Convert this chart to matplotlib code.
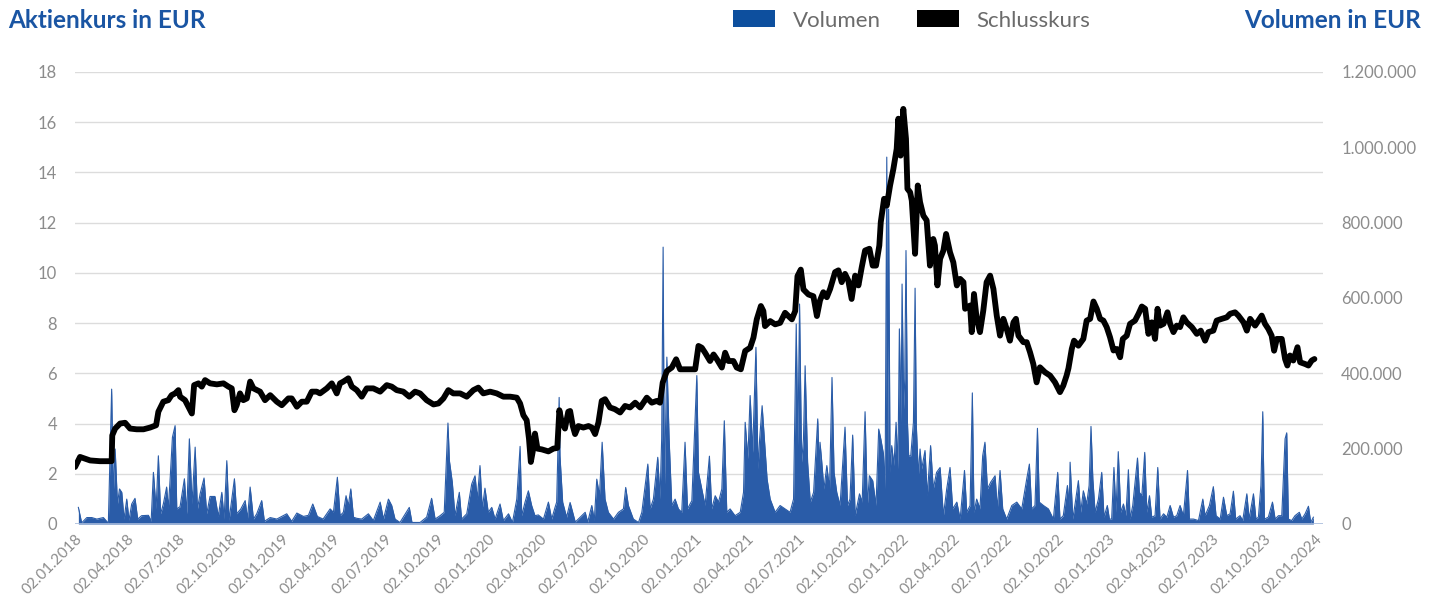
import numpy as np
import matplotlib
matplotlib.use("Agg")
import matplotlib.pyplot as plt
from matplotlib.patches import Patch

plt.rcParams["font.family"] = ["Lato", "DejaVu Sans"]

# closing price (EUR), time as decimal year
price_t = [
    2018.000, 2018.024, 2018.073, 2018.120, 2018.177, 2018.180, 2018.194, 2018.218, 2018.242, 2018.266,
    2018.298, 2018.331, 2018.363, 2018.392, 2018.403, 2018.427, 2018.451, 2018.467, 2018.484, 2018.500,
    2018.508, 2018.532, 2018.548, 2018.565, 2018.576, 2018.597, 2018.613, 2018.629, 2018.653, 2018.686,
    2018.718, 2018.742, 2018.758, 2018.771, 2018.782, 2018.798, 2018.814, 2018.831, 2018.847, 2018.863,
    2018.895, 2018.919, 2018.944, 2018.976, 2019.000, 2019.032, 2019.048, 2019.073, 2019.097, 2019.121,
    2019.145, 2019.169,
    2019.185, 2019.218, 2019.242, 2019.266, 2019.282, 2019.298, 2019.322, 2019.339, 2019.363, 2019.387,
    2019.411, 2019.443, 2019.476, 2019.508, 2019.532, 2019.556, 2019.588, 2019.617, 2019.645, 2019.669,
    2019.701, 2019.734, 2019.758, 2019.782, 2019.806, 2019.830, 2019.863, 2019.895, 2019.927, 2019.951,
    2019.975, 2020.008, 2020.040, 2020.072, 2020.105, 2020.137, 2020.153, 2020.169, 2020.185, 2020.196,
    2020.205, 2020.214, 2020.225, 2020.237, 2020.258, 2020.290, 2020.314, 2020.333, 2020.343, 2020.354,
    2020.370, 2020.386,
    2020.395, 2020.408, 2020.419, 2020.435, 2020.459, 2020.484, 2020.500, 2020.516, 2020.532, 2020.548,
    2020.564, 2020.588, 2020.612, 2020.637, 2020.661, 2020.685, 2020.710, 2020.734, 2020.766, 2020.790,
    2020.814, 2020.830, 2020.843, 2020.863, 2020.887, 2020.908, 2020.927, 2020.951, 2020.975, 2021.000,
    2021.016, 2021.032, 2021.048, 2021.072, 2021.089, 2021.105, 2021.129, 2021.145, 2021.161, 2021.185,
    2021.201, 2021.221, 2021.242, 2021.266, 2021.282, 2021.298, 2021.318, 2021.330, 2021.338, 2021.363,
    2021.387, 2021.411, 2021.435, 2021.451, 2021.468, 2021.484, 2021.495, 2021.511, 2021.524, 2021.548,
    2021.572, 2021.589,
    2021.604, 2021.620, 2021.637, 2021.653, 2021.677, 2021.693, 2021.709, 2021.725, 2021.741, 2021.757,
    2021.774, 2021.790, 2021.806, 2021.822, 2021.843, 2021.859, 2021.875, 2021.891, 2021.898, 2021.914,
    2021.927, 2021.943, 2021.959, 2021.975, 2021.983, 2021.994, 2022.007, 2022.020, 2022.027, 2022.040,
    2022.048, 2022.064, 2022.077, 2022.088, 2022.104, 2022.120, 2022.136, 2022.152, 2022.160, 2022.172,
    2022.185, 2022.201, 2022.214, 2022.233, 2022.249, 2022.266, 2022.282, 2022.298, 2022.306, 2022.330,
    2022.338, 2022.349, 2022.362, 2022.378, 2022.394, 2022.410, 2022.427, 2022.443, 2022.459, 2022.475,
    2022.491, 2022.507, 2022.523, 2022.540, 2022.552, 2022.564, 2022.588, 2022.604, 2022.620, 2022.636,
    2022.652, 2022.668, 2022.693, 2022.717, 2022.741, 2022.765, 2022.781, 2022.797, 2022.806,
    2022.822, 2022.833, 2022.854, 2022.878, 2022.894, 2022.911, 2022.927, 2022.943, 2022.959, 2022.975,
    2022.991, 2023.007, 2023.024, 2023.040, 2023.056, 2023.069, 2023.088, 2023.104, 2023.128, 2023.145,
    2023.161, 2023.177, 2023.193, 2023.209, 2023.225, 2023.237, 2023.249, 2023.266, 2023.285, 2023.298,
    2023.314, 2023.330, 2023.346, 2023.362, 2023.378, 2023.403, 2023.427, 2023.446, 2023.467, 2023.483,
    2023.507, 2023.523, 2023.548, 2023.572, 2023.588, 2023.612, 2023.628, 2023.653, 2023.669, 2023.685,
    2023.709, 2023.725, 2023.741, 2023.757, 2023.773, 2023.789, 2023.801, 2023.814, 2023.838, 2023.854,
    2023.865, 2023.878, 2023.894, 2023.914, 2023.927, 2023.951, 2023.967, 2023.983, 2023.996,
]
price = [
    2.27, 2.67, 2.53, 2.50, 2.50, 3.53, 3.80, 4.00, 4.03, 3.80,
    3.77, 3.77, 3.84, 3.93, 4.47, 4.87, 4.93, 5.13, 5.20, 5.33,
    5.07, 4.93, 4.67, 4.40, 5.53, 5.60, 5.47, 5.73, 5.60, 5.56,
    5.60, 5.47, 5.40, 4.53, 4.73, 5.20, 4.93, 5.00, 5.67, 5.40,
    5.27, 4.93, 5.13, 4.87, 4.73, 5.00, 5.00, 4.67, 4.87, 4.87,
    5.27, 5.27,
    5.20, 5.40, 5.60, 5.20, 5.60, 5.67, 5.80, 5.47, 5.33, 5.07,
    5.40, 5.40, 5.27, 5.53, 5.47, 5.33, 5.27, 5.07, 5.27, 5.20,
    4.93, 4.76, 4.80, 5.00, 5.33, 5.20, 5.20, 5.07, 5.33, 5.43,
    5.20, 5.27, 5.20, 5.07, 5.07, 5.03, 4.80, 4.33, 4.13, 3.40,
    2.47, 2.87, 3.60, 3.00, 2.97, 2.89, 3.00, 3.03, 4.53, 4.07,
    3.80, 4.47,
    4.50, 3.90, 3.58, 3.90, 3.84, 3.90, 3.84, 3.58, 4.04, 4.90,
    4.97, 4.64, 4.57, 4.44, 4.70, 4.64, 4.83, 4.64, 5.03, 4.83,
    4.90, 4.83, 5.63, 6.09, 6.23, 6.56, 6.16, 6.16, 6.16, 6.16,
    7.09, 7.02, 6.82, 6.49, 6.75, 6.56, 6.23, 6.82, 6.49, 6.49,
    6.23, 6.16, 6.89, 7.02, 7.42, 8.15, 8.68, 8.48, 7.88, 8.08,
    7.95, 8.01, 8.41, 8.28, 8.15, 8.48, 9.87, 10.13, 9.34, 9.14,
    9.07, 8.28,
    8.90, 9.23, 9.03, 9.36, 10.03, 10.10, 9.63, 9.96, 9.69, 8.96,
    9.89, 9.50, 10.23, 10.89, 10.96, 10.29, 10.29, 11.09, 12.02, 12.95,
    12.68, 13.48, 14.14, 14.94, 16.14, 14.67, 16.53, 15.34, 13.35, 13.21,
    12.88, 10.76, 13.48, 12.82, 12.28, 12.09, 10.29, 11.35, 11.09, 9.50,
    10.56, 10.89, 11.55, 10.82, 10.42, 9.50, 9.76, 9.63, 8.57, 8.70,
    7.64, 9.16, 8.17, 7.64, 8.50, 9.63, 9.89, 9.36, 8.30, 7.50,
    8.17, 7.77, 7.30, 8.03, 8.17, 7.50, 7.24, 7.24, 6.84, 6.37,
    5.64, 6.24, 6.04, 5.91, 5.64, 5.25, 5.51, 5.91, 6.20,
    6.97, 7.30, 7.10, 7.37, 8.10, 8.17, 8.86, 8.57, 8.17, 8.10,
    7.84, 7.44, 6.91, 6.97, 6.64, 7.37, 7.50, 7.97, 8.10, 8.37,
    8.66, 8.57, 7.57, 8.03, 7.37, 8.57, 7.90, 7.97, 8.43, 7.97,
    7.64, 7.90, 7.84, 8.23, 8.03, 7.84, 7.57, 7.70, 7.30, 7.64,
    7.70, 8.10, 8.17, 8.23, 8.37, 8.43, 8.30, 8.03, 7.70, 8.17,
    7.90, 8.10, 8.30, 7.97, 7.77, 7.50, 6.90, 7.37, 7.37, 6.57,
    6.31, 6.71, 6.51, 7.04, 6.44, 6.37, 6.31, 6.51, 6.57,
]

# traded volume in thousand EUR
vol_t = [
    2018.016, 2018.032, 2018.057, 2018.081, 2018.105, 2018.137, 2018.161, 2018.177, 2018.185, 2018.194,
    2018.205, 2018.215, 2018.226, 2018.237, 2018.250, 2018.261, 2018.274, 2018.290, 2018.303, 2018.322,
    2018.355, 2018.368, 2018.379, 2018.392, 2018.403, 2018.414, 2018.427, 2018.443, 2018.451, 2018.460,
    2018.471, 2018.484, 2018.492, 2018.508, 2018.529, 2018.540, 2018.553, 2018.566, 2018.581, 2018.592,
    2018.605, 2018.624, 2018.637, 2018.653, 2018.677, 2018.693, 2018.710, 2018.721, 2018.734, 2018.745,
    2018.771, 2018.782, 2018.802, 2018.823, 2018.834, 2018.847, 2018.863, 2018.879, 2018.903, 2018.916,
    2018.944, 2018.976, 2019.024, 2019.048, 2019.073, 2019.105, 2019.129, 2019.150, 2019.172,
    2019.200, 2019.234, 2019.250, 2019.269, 2019.282, 2019.298, 2019.311, 2019.322, 2019.334, 2019.347,
    2019.363, 2019.387, 2019.419, 2019.443, 2019.476, 2019.492, 2019.516, 2019.532, 2019.548, 2019.572,
    2019.617, 2019.630, 2019.669, 2019.701, 2019.725, 2019.742, 2019.766, 2019.786, 2019.804, 2019.811,
    2019.825, 2019.838, 2019.859, 2019.870, 2019.895, 2019.919, 2019.935, 2019.946, 2019.959, 2019.970,
    2019.983, 2019.999, 2020.016, 2020.032, 2020.056, 2020.072, 2020.097, 2020.116, 2020.137, 2020.153,
    2020.161, 2020.177, 2020.193, 2020.209, 2020.225, 2020.241, 2020.266, 2020.290, 2020.306, 2020.322,
    2020.330, 2020.342, 2020.346, 2020.359, 2020.378,
    2020.395, 2020.420, 2020.468, 2020.480, 2020.500, 2020.512, 2020.524, 2020.537, 2020.550, 2020.564,
    2020.580, 2020.605, 2020.629, 2020.653, 2020.664, 2020.677, 2020.701, 2020.726, 2020.742, 2020.758,
    2020.771, 2020.782, 2020.798, 2020.819, 2020.830, 2020.838, 2020.845, 2020.851, 2020.863, 2020.874,
    2020.887, 2020.903, 2020.919, 2020.935, 2020.951, 2020.963, 2020.984, 2021.008, 2021.016, 2021.032,
    2021.048, 2021.069, 2021.080, 2021.097, 2021.113, 2021.129, 2021.141, 2021.153, 2021.169, 2021.193,
    2021.218, 2021.234, 2021.242, 2021.255, 2021.266, 2021.278, 2021.294, 2021.304, 2021.312, 2021.324,
    2021.337, 2021.348, 2021.363, 2021.387, 2021.411, 2021.435, 2021.459, 2021.476, 2021.489, 2021.497,
    2021.505, 2021.515, 2021.524, 2021.532, 2021.544, 2021.557, 2021.573, 2021.593, 2021.601,
    2021.604, 2021.612, 2021.623, 2021.637, 2021.650, 2021.662, 2021.672, 2021.685, 2021.701, 2021.714,
    2021.725, 2021.737, 2021.749, 2021.762, 2021.774, 2021.795, 2021.808, 2021.822, 2021.833, 2021.843,
    2021.859, 2021.875, 2021.888, 2021.898, 2021.911, 2021.919, 2021.927, 2021.932, 2021.936, 2021.943,
    2021.951, 2021.962, 2021.972, 2021.981, 2021.988, 2021.996, 2022.001, 2022.009, 2022.014, 2022.020,
    2022.027, 2022.033, 2022.043, 2022.056, 2022.064, 2022.070, 2022.080, 2022.088, 2022.096, 2022.112,
    2022.123, 2022.139, 2022.152, 2022.168, 2022.185, 2022.201, 2022.217, 2022.233, 2022.246, 2022.266,
    2022.282, 2022.303, 2022.314, 2022.330, 2022.341, 2022.349, 2022.362, 2022.378, 2022.391, 2022.402,
    2022.414, 2022.430, 2022.451, 2022.462, 2022.475, 2022.488, 2022.507, 2022.532, 2022.556, 2022.580,
    2022.604, 2022.617, 2022.628, 2022.644, 2022.656, 2022.665, 2022.685, 2022.709, 2022.733, 2022.754,
    2022.765, 2022.781, 2022.801, 2022.810,
    2022.814, 2022.827, 2022.838, 2022.854, 2022.865, 2022.878, 2022.894, 2022.906, 2022.915, 2022.924,
    2022.935, 2022.951, 2022.967, 2022.978, 2022.994, 2023.004, 2023.015, 2023.026, 2023.036, 2023.047,
    2023.059, 2023.072, 2023.084, 2023.096, 2023.104, 2023.117, 2023.125, 2023.140, 2023.149, 2023.161,
    2023.175, 2023.185, 2023.198, 2023.209, 2023.225, 2023.238, 2023.249, 2023.266, 2023.282, 2023.298,
    2023.314, 2023.330, 2023.346, 2023.362, 2023.382, 2023.391, 2023.411, 2023.435, 2023.456, 2023.467,
    2023.488, 2023.507, 2023.520, 2023.540, 2023.556, 2023.572, 2023.588, 2023.604, 2023.615, 2023.636,
    2023.649, 2023.669, 2023.680, 2023.701, 2023.713, 2023.725, 2023.737, 2023.746, 2023.754, 2023.773,
    2023.793, 2023.806, 2023.822, 2023.838, 2023.854, 2023.862, 2023.870, 2023.886, 2023.902, 2023.923,
    2023.935, 2023.951, 2023.967, 2023.978, 2023.991,
]
vol_k = [
    44, 3, 17, 17, 13, 17, 2, 358, 80, 199,
    53, 93, 84, 13, 66, 10, 53, 68, 13, 22,
    23, 7, 137, 40, 181, 27, 53, 98, 40, 120,
    230, 261, 40, 46, 120, 27, 226, 53, 204, 40,
    80, 122, 27, 73, 73, 20, 84, 13, 168, 10,
    120, 27, 40, 62, 13, 98, 13, 27, 62, 7,
    17, 13, 27, 7, 29, 20, 23, 53, 20,
    13, 40, 31, 124, 22, 31, 75, 49, 93, 18,
    15, 13, 27, 9, 58, 13, 66, 49, 13, 4,
    44, 4, 4, 18, 68, 13, 22, 31, 268, 168,
    111, 22, 84, 13, 27, 106, 128, 66, 155, 40,
    95, 31, 44, 13, 53, 9, 27, 4, 66, 206,
    22, 58, 88, 49, 22, 24, 13, 58, 13, 44,
    58, 336, 181, 58, 18,
    57, 5, 31, 5, 49, 10, 119, 75, 217, 66,
    31, 13, 31, 40, 97, 49, 13, 4, 31, 102,
    159, 40, 66, 177, 66, 226, 735, 84, 443, 226,
    49, 66, 40, 31, 217, 40, 62, 394, 137, 93,
    49, 180, 40, 75, 58, 93, 274, 31, 40, 22,
    31, 84, 270, 173, 341, 190, 469, 146, 226, 314,
    208, 119, 66, 31, 49, 40, 31, 66, 531, 208,
    584, 164, 226, 420, 164, 58, 84, 279, 137,
    217, 168, 93, 155, 93, 389, 137, 84, 49, 164,
    257, 49, 66, 236, 22, 80, 58, 298, 49, 128,
    115, 49, 252, 226, 186, 93, 974, 137, 836, 137,
    208, 155, 270, 146, 518, 270, 637, 305, 385, 726,
    270, 181, 181, 270, 626, 261, 128, 199, 146, 195,
    75, 208, 93, 137, 150, 22, 93, 150, 40, 58,
    13, 142, 31, 49, 348, 31, 66, 40, 181, 217,
    93, 111, 128, 40, 142, 40, 13, 49, 58, 40,
    119, 159, 40, 49, 254, 58, 49, 40, 13, 137,
    13, 22, 102, 49,
    164, 13, 53, 115, 31, 88, 53, 102, 259, 119,
    31, 66, 137, 18, 49, 13, 13, 150, 31, 192,
    31, 53, 22, 144, 13, 49, 93, 175, 84, 75,
    190, 31, 75, 18, 22, 150, 13, 27, 18, 49,
    18, 22, 49, 22, 142, 13, 13, 9, 66, 22,
    49, 99, 22, 13, 71, 22, 27, 87, 13, 22,
    9, 80, 13, 80, 13, 18, 102, 298, 13, 18,
    58, 13, 22, 22, 226, 242, 13, 9, 22, 31,
    13, 27, 47, 4, 18,
]

price_ticks = list(range(0, 19, 2))
vol_ticks = [0, 200000, 400000, 600000, 800000, 1000000, 1200000]
quarter_ticks = [2018 + q * 0.25 for q in range(25)]
quarter_labels = [f"02.{m:02d}.{2018 + q // 4}" for q, m in
                  zip(range(25), [1, 4, 7, 10] * 7)]

blue = "#2a5ca8"
title_blue = "#1a55a3"
grey = "#8c8c8c"

fig = plt.figure(figsize=(14.38, 6.04), dpi=100)
ax = fig.add_axes([0.0522, 0.1325, 0.8679, 0.7483])
ax2 = ax.twinx()
ax.set_zorder(ax2.get_zorder() + 1)
ax.patch.set_visible(False)

vol = np.array(vol_k) * 1000
ax2.fill_between(vol_t, vol, 0, color=blue, lw=0)
ax2.plot(vol_t, vol, color=blue, lw=0.8)
for v in price_ticks[1:]:
    ax2.axhline(v * 1200000 / 18, color="#dcdcdc", lw=1, zorder=0)
ax2.axhline(0, color="#a9bcdc", lw=1.2, zorder=3)

ax.plot(price_t, price, color="black", lw=4.2, solid_joinstyle="round", solid_capstyle="round")

xmax = 2024.038
ax.set_xlim(2018.0, xmax)
ax.set_ylim(0, 18)
ax2.set_ylim(0, 1200000)

ax.set_yticks(price_ticks)
ax.set_yticklabels([str(v) for v in price_ticks])
ax2.set_yticks(vol_ticks)
ax2.set_yticklabels([f"{v:,}".replace(",", ".") for v in vol_ticks])
ax.set_xticks(quarter_ticks)
ax.set_xticklabels(quarter_labels, rotation=45, ha="right", rotation_mode="anchor")

for a in (ax, ax2):
    for s in a.spines.values():
        s.set_visible(False)
    a.tick_params(length=0, colors=grey, labelsize=12)
ax.tick_params(axis="y", pad=13)
ax2.tick_params(axis="y", pad=13)
ax.tick_params(axis="x", pad=6, labelsize=11)

fig.text(8 / 1438, 0.966, "Aktienkurs in EUR", ha="left", va="center",
         fontsize=17.5, fontweight="bold", color=title_blue)
fig.text(1421 / 1438, 0.966, "Volumen in EUR", ha="right", va="center",
         fontsize=17.5, fontweight="bold", color=title_blue)

handles = [Patch(facecolor="#0d4f9e", edgecolor="none", label="Volumen"),
           Patch(facecolor="black", edgecolor="none", label="Schlusskurs")]
leg = fig.legend(handles=handles, loc="center", bbox_to_anchor=(0.634, 0.966), ncol=2,
                 frameon=False, fontsize=16, handlelength=1.9, handleheight=0.8,
                 handletextpad=0.8, columnspacing=1.6)
for t in leg.get_texts():
    t.set_color("#6b6b6b")

fig.savefig("out.png", dpi=100)
